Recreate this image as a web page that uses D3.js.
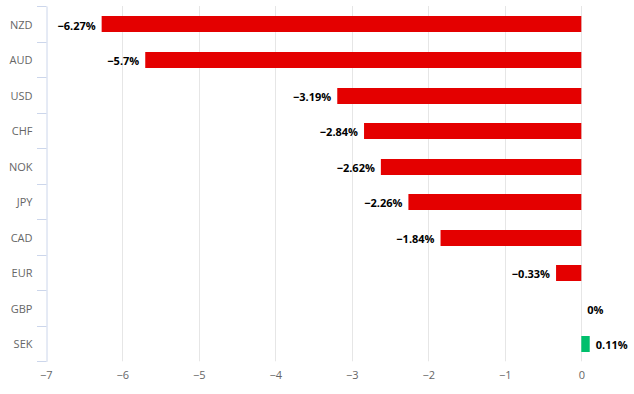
<!DOCTYPE html>
<html>
<head>
<meta charset="utf-8">
<script src="https://cdn.jsdelivr.net/npm/d3@7"></script>
<style>
  html, body { margin: 0; padding: 0; background: #fff; }
  svg { display: block; font-family: "Open Sans", "DejaVu Sans", sans-serif; }
</style>
</head>
<body>
<svg id="chart" width="634" height="394"></svg>
<script>
const categories = ["NZD", "AUD", "USD", "CHF", "NOK", "JPY", "CAD", "EUR", "GBP", "SEK"];
const values = [-6.27, -5.7, -3.19, -2.84, -2.62, -2.26, -1.84, -0.33, 0, 0.11];
const labels = ["−6.27%", "−5.7%", "−3.19%", "−2.84%", "−2.62%", "−2.26%", "−1.84%", "−0.33%", "0%", "0.11%"];
const xTicks = [-7, -6, -5, -4, -3, -2, -1, 0];

const svg = d3.select("#chart");
const plotTop = 6, plotBottom = 361.3;
const x = d3.scaleLinear().domain([-7, 0]).range([45.8, 581.3]);
const y = d3.scaleBand().domain(categories).range([plotTop, plotBottom]).padding(0);
const font = "'Open Sans', sans-serif";

// gridlines
svg.append("g").selectAll("line").data(xTicks.filter(d => d !== -7)).join("line")
  .attr("x1", d => Math.round(x(d)) + 0.5).attr("x2", d => Math.round(x(d)) + 0.5)
  .attr("y1", plotTop).attr("y2", plotBottom)
  .attr("stroke", "#e6e6e6").attr("stroke-width", 1);

// x axis labels
const xAxis = d3.axisBottom(x).tickValues(xTicks).tickSize(0).tickPadding(0)
  .tickFormat(d => d < 0 ? "−" + Math.abs(d) : String(d));
const gx = svg.append("g").attr("transform", `translate(0, ${plotBottom + 10})`).call(xAxis);
gx.select(".domain").remove();
gx.selectAll("text").attr("fill", "#666").attr("font-size", 11).attr("dy", "0.71em")
  .style("font-family", font);

// y axis
const yAxis = d3.axisLeft(y).tickSize(0).tickPadding(14);
const gy = svg.append("g").attr("transform", `translate(46.5, 0)`).call(yAxis);
gy.select(".domain").attr("stroke", "#ccd6eb");
gy.selectAll("text").attr("fill", "#666").attr("font-size", 11)
  .attr("y", 1.3)
  .style("font-family", font);
// tick marks at band edges
const edges = categories.map(c => y(c)).concat([plotBottom]);
svg.append("g").selectAll("line").data(edges).join("line")
  .attr("x1", 37).attr("x2", 46.5)
  .attr("y1", d => Math.round(d) + 0.5).attr("y2", d => Math.round(d) + 0.5)
  .attr("stroke", "#ccd6eb").attr("stroke-width", 1);

// bars
const barH = 16;
svg.append("g").selectAll("rect").data(categories).join("rect")
  .attr("x", (c, i) => Math.min(x(values[i]), x(0)))
  .attr("width", (c, i) => Math.abs(x(values[i]) - x(0)))
  .attr("y", c => Math.round(y(c) + y.bandwidth() / 2 - barH / 2 + 0.7))
  .attr("height", barH)
  .attr("fill", (c, i) => values[i] > 0 ? "#00bf6c" : "#e40000");

// data labels
svg.append("g").selectAll("text").data(categories).join("text")
  .attr("x", (c, i) => values[i] < 0 ? x(values[i]) - 6 : x(values[i]) + 6)
  .attr("y", c => y(c) + y.bandwidth() / 2 + 2)
  .attr("dy", "0.35em")
  .attr("text-anchor", (c, i) => values[i] < 0 ? "end" : "start")
  .attr("font-size", 11).attr("font-weight", "bold").attr("fill", "#000")
  .style("font-family", font)
  .text((c, i) => labels[i]);
</script>
</body>
</html>
